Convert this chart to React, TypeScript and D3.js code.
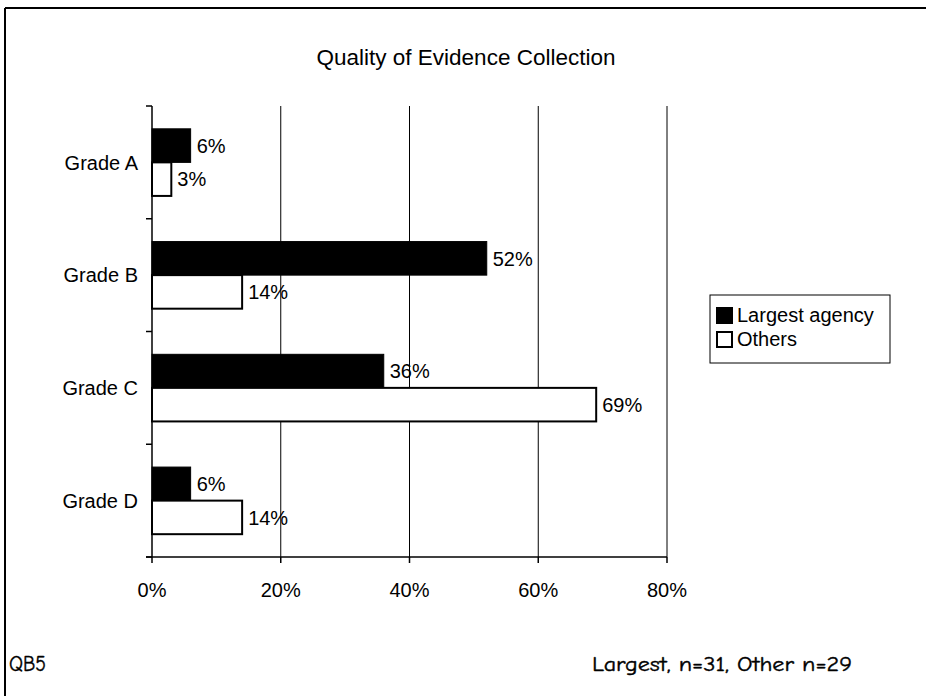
import React from "react";
import * as d3 from "d3";

// Chart data
const categories: string[] = ["Grade A", "Grade B", "Grade C", "Grade D"];
const largestValues: number[] = [6, 52, 36, 6];
const otherValues: number[] = [3, 14, 69, 14];
const seriesNames: string[] = ["Largest agency", "Others"];
const xTicks: number[] = [0, 20, 40, 60, 80];

const App: React.FC = () => {
    const width = 926;
    const height = 696;
    const plotLeft = 152;
    const plotRight = 667;
    const plotTop = 106;
    const plotBottom = 557;
    const font = "Arial, 'Liberation Sans', Helvetica, sans-serif";
    const comic = "'Comic Sans MS', 'Comic Neue', 'DejaVu Sans', sans-serif";

    const xScale = d3.scaleLinear().domain([0, 80]).range([plotLeft, plotRight]);
    const yScale = d3.scaleBand<string>().domain(categories).range([plotTop, plotBottom]).padding(0);
    const inner = d3.scaleBand<string>()
        .domain(["largest", "others"])
        .range([0, yScale.bandwidth()])
        .paddingInner(0)
        .paddingOuter(0.68);

    const series = [
        { key: "largest", values: largestValues, fill: "#000", stroke: 1 },
        { key: "others", values: otherValues, fill: "#fff", stroke: 2 },
    ];

    const bandEdges = [...categories.map(c => yScale(c)!), plotBottom];

    return (
        <svg width={width} height={height} style={{ position: "absolute", left: 0, top: 0, background: "#fff" }}>
            {/* frame */}
            <line x1={5} y1={8} x2={926} y2={8} stroke="#000" strokeWidth={2} />
            <line x1={5} y1={8} x2={5} y2={696} stroke="#000" strokeWidth={2} />

            {/* title */}
            <text x={466} y={65} textAnchor="middle" fontFamily={font} fontSize={22.5} fill="#000">
                Quality of Evidence Collection
            </text>

            {/* gridlines */}
            {xTicks.filter(t => t > 0).map(t => (
                <line key={`g${t}`} x1={xScale(t)} x2={xScale(t)} y1={plotTop} y2={plotBottom} stroke="#000" strokeWidth={1} />
            ))}

            {/* bars */}
            {categories.map((c, i) => (
                <g key={c}>
                    {series.map(s => {
                        const y = yScale(c)! + inner(s.key)!;
                        const h = inner.bandwidth();
                        const v = s.values[i];
                        return (
                            <g key={s.key}>
                                <rect
                                    x={xScale(0)}
                                    y={y}
                                    width={xScale(v) - xScale(0)}
                                    height={h}
                                    fill={s.fill}
                                    stroke="#000"
                                    strokeWidth={s.stroke}
                                />
                                <text
                                    x={xScale(v) + 6}
                                    y={y + h / 2}
                                    dy="0.36em"
                                    fontFamily={font}
                                    fontSize={20}
                                    fill="#000"
                                >
                                    {`${v}%`}
                                </text>
                            </g>
                        );
                    })}
                </g>
            ))}

            {/* y axis */}
            <line x1={plotLeft} x2={plotLeft} y1={plotTop} y2={plotBottom} stroke="#000" strokeWidth={1.5} />
            {bandEdges.map((y, i) => (
                <line key={`yt${i}`} x1={plotLeft - 6} x2={plotLeft} y1={y} y2={y} stroke="#000" strokeWidth={1.5} />
            ))}
            {categories.map(c => (
                <text
                    key={`yl${c}`}
                    x={138}
                    y={yScale(c)! + yScale.bandwidth() / 2}
                    dy="0.36em"
                    textAnchor="end"
                    fontFamily={font}
                    fontSize={20}
                    fill="#000"
                >
                    {c}
                </text>
            ))}

            {/* x axis */}
            <line x1={plotLeft - 6} x2={plotRight} y1={plotBottom} y2={plotBottom} stroke="#000" strokeWidth={1.5} />
            {xTicks.map(t => (
                <g key={`xt${t}`}>
                    <line x1={xScale(t)} x2={xScale(t)} y1={plotBottom} y2={plotBottom + 6} stroke="#000" strokeWidth={1.5} />
                    <text x={xScale(t)} y={597} textAnchor="middle" fontFamily={font} fontSize={20} fill="#000">
                        {`${t}%`}
                    </text>
                </g>
            ))}

            {/* legend */}
            <rect x={710} y={295} width={180} height={68} fill="#fff" stroke="#000" strokeWidth={1} />
            {seriesNames.map((name, i) => (
                <g key={name} transform={`translate(716, ${307 + i * 24})`}>
                    <rect x={1} y={1} width={15} height={15} fill={series[i].fill} stroke="#000" strokeWidth={2} />
                    <text x={21} y={15} fontFamily={font} fontSize={20} fill="#000">{name}</text>
                </g>
            ))}

            {/* footnotes */}
            <text x={9} y={671} fontFamily={comic} fontSize={23} textLength={37} lengthAdjust="spacingAndGlyphs" fill="#000" stroke="#000" strokeWidth={0.4}>QB5</text>
            <text x={592} y={671} fontFamily={comic} fontSize={21} textLength={260} lengthAdjust="spacingAndGlyphs" fill="#000" stroke="#000" strokeWidth={0.4}>
                Largest, n=31, Other n=29
            </text>
        </svg>
    );
};

export default App;
